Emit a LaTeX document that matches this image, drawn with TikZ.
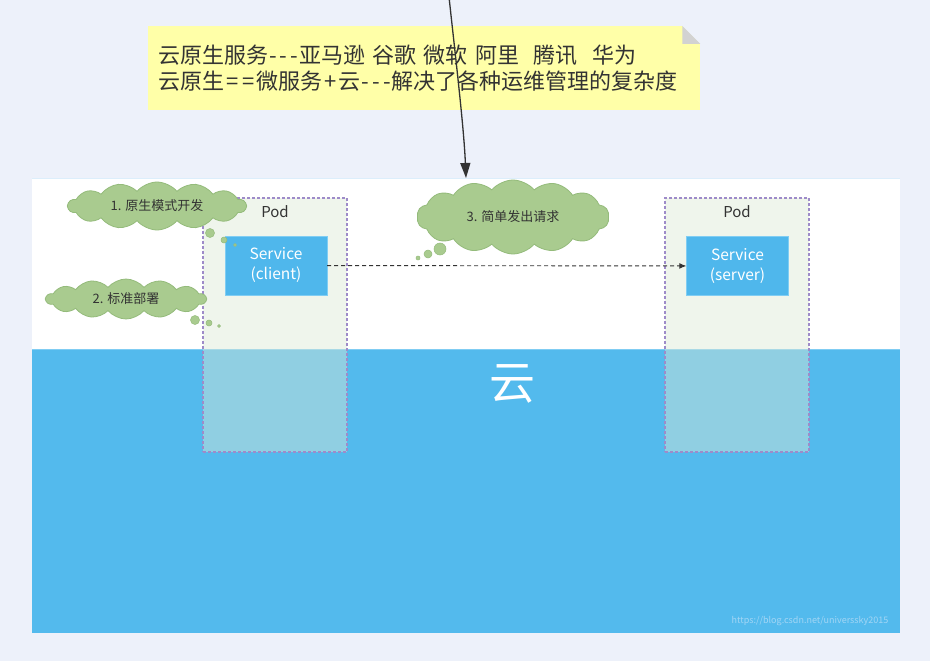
\documentclass[tikz,border=0pt]{standalone}
\usepackage{fontspec}
\setmainfont{Noto Sans CJK SC}
\usetikzlibrary{arrows.meta,positioning,shapes.symbols}
\definecolor{pagebg}{HTML}{EDF1FA}
\definecolor{notebg}{HTML}{FFFFA8}
\definecolor{notefold}{HTML}{D2D2D2}
\definecolor{inkgray}{HTML}{333333}
\definecolor{skyblue}{HTML}{53BAED}
\definecolor{skyedge}{HTML}{80CDF3}
\definecolor{stageedge}{HTML}{DCEEFB}
\definecolor{podgreen}{HTML}{DCE9D5}
\definecolor{podpurple}{HTML}{9E8BC9}
\definecolor{svcblue}{HTML}{4FB7EC}
\definecolor{cloudfill}{HTML}{A9CB8F}
\definecolor{cloudedge}{HTML}{94BB7B}
\definecolor{markblue}{HTML}{A3D6F5}
\newcommand{\tridash}{\kern1pt-\kern3pt-\kern3pt-\kern1pt}
\newcommand{\wideop}[1]{\kern2pt#1\kern2pt}

\begin{document}
\begin{tikzpicture}[
  x=1pt, y=-1pt,
  note/.style={fill=notebg, align=left, text=inkgray, anchor=north west,
               minimum width=552pt, minimum height=84pt, text width=532pt,
               inner xsep=10pt, inner ysep=0pt,
               font=\fontsize{22}{26}\selectfont},
  pod/.style={draw=podpurple, dash pattern=on 3pt off 2pt, line width=1.1pt,
              fill=podgreen, fill opacity=0.45, minimum width=144pt,
              minimum height=254pt, inner sep=0pt},
  podname/.style={text=inkgray, font=\fontsize{15}{17}\selectfont},
  svc/.style={fill=svcblue, draw=skyedge, text=white, align=center,
              minimum width=102pt, minimum height=59pt, inner sep=0pt,
              font=\fontsize{15.5}{20}\selectfont},
  thought/.style={cloud, cloud puffs=14, cloud puff arc=100, cloud ignores aspect,
                  fill=cloudfill, draw=cloudedge, line width=0.8pt, text=inkgray,
                  inner sep=0pt, font=\fontsize{13}{15}\selectfont},
  bubble/.style={circle, fill=cloudfill, draw=cloudedge, line width=0.5pt, inner sep=0pt},
  arrow/.style={-{Triangle[length=15pt,width=10pt]}, line width=1.3pt, draw=inkgray},
  call/.style={-{Latex[length=7pt,width=6pt]}, draw=inkgray, line width=0.9pt,
               dash pattern=on 4pt off 3pt}
]
  \useasboundingbox (0,0) rectangle (930,661);
  \fill[pagebg] (0,0) rectangle (930,661);

  % sticky note
  \node[note] (note) at (148,26) {云原生服务\tridash 亚马逊 谷歌 微软 阿里\ \ 腾讯\ \ 华为\\
    云原生\wideop{=}\wideop{=}微服务\wideop{+}云\tridash 解决了各种运维管理的复杂度};
  \fill[pagebg] (note.north east) -- ++(-18,0) -- ++(18,18) -- cycle;
  \fill[notefold] (note.north east) ++(-18,0) -- ++(0,18) -- ++(18,0) -- cycle;

  % stage and cloud layer
  \fill[white] (32,178) rectangle (900,349);
  \draw[stageedge] (32,178) -- (900,178);
  \fill[skyblue] (32,349) rectangle (900,633);
  \draw[skyedge, line width=1.5pt] (32,349.5) -- (900,349.5);

  \coordinate (feed) at (449,-3);
  \coordinate (drop) at (466,178);
  \draw[arrow] (feed) .. controls (457,70) and (464,130) .. (drop);

  % pods
  \node[pod] (clientpod) at (275,325) {};
  \node[pod] (serverpod) at (737,325) {};
  \node[podname, below=5pt of clientpod.north] (clientpodname) {Pod};
  \node[podname, below=5pt of serverpod.north] (serverpodname) {Pod};
  \node[svc] (client) at (276,265.5) {Service\\(client)};
  \node[svc] (server) at (737.5,266) {Service\\(server)};
  \draw[call] (client) -- (server);

  % thoughts
  \node[thought, minimum width=178pt, minimum height=48pt] (dev) at (157,206) {1. 原生模式开发};
  \node[thought, minimum width=160pt, minimum height=40pt] (deploy) at (126,299) {2. 标准部署};
  \node[thought, minimum width=192pt, minimum height=74pt] (request) at (513,217) {3. 简单发出请求};
  \foreach \x/\y/\d [count=\i] in {210/233/9, 224/240/6, 235/245/3,
                                   195/320/9, 209/323/6, 219/326/3,
                                   440/249/12, 428/254/8, 418/258/4}
    \node[bubble, minimum size=\d pt] (bubble\i) at (\x,\y) {};

  \node[text=white, font=\fontsize{46}{46}\selectfont] (yun) at (512,384) {云};
  \node[text=markblue, font=\fontsize{9}{10}\selectfont] (mark) at (810,621)
    {https://blog.csdn.net/universsky2015};
\end{tikzpicture}
\end{document}
